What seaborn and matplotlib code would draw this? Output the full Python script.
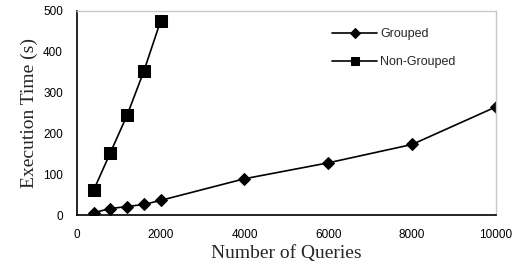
import pandas as pd
import matplotlib
matplotlib.use("Agg")
import matplotlib.pyplot as plt
import seaborn as sns

# values
grouped_x = [400, 800, 1200, 1600, 2000, 4000, 6000, 8000, 10000]
grouped_y = [6, 16, 21, 26, 36, 89, 128, 173, 265]
nongrouped_x = [400, 800, 1200, 1600, 2000]
nongrouped_y = [61, 153, 245, 353, 476]
x_ticks = [0, 2000, 4000, 6000, 8000, 10000]
y_ticks = [0, 100, 200, 300, 400, 500]

df = pd.concat([
    pd.DataFrame({'Queries': grouped_x, 'Time': grouped_y, 'Series': 'Grouped'}),
    pd.DataFrame({'Queries': nongrouped_x, 'Time': nongrouped_y, 'Series': 'Non-Grouped'}),
])

sns.set_style("white")
fig = plt.figure(figsize=(5.16, 2.74), dpi=100)
ax = fig.add_axes([0.149, 0.215, 0.812, 0.745])

sns.lineplot(data=df, x='Queries', y='Time', hue='Series', style='Series',
             palette={'Grouped': 'black', 'Non-Grouped': 'black'},
             markers={'Grouped': 'D', 'Non-Grouped': 's'},
             dashes=False, linewidth=1.2, markeredgecolor='black',
             ax=ax)
for line in ax.lines:
    if line.get_marker() == 's':
        line.set_markersize(9)
    else:
        line.set_markersize(6.5)

ax.set_xlim(0, 10000)
ax.set_ylim(0, 500)
ax.set_xticks(x_ticks)
ax.set_yticks(y_ticks)
ax.tick_params(direction='out', length=4, width=1, colors='black', labelsize=8.5, pad=6)
for lab in ax.get_xticklabels() + ax.get_yticklabels():
    lab.set_family('Liberation Sans')

ax.set_xlabel('Number of Queries', family='Liberation Serif', fontsize=14, labelpad=3)
ax.set_ylabel('Execution Time (s)', family='Liberation Serif', fontsize=14, labelpad=4)

for side in ['left', 'bottom']:
    ax.spines[side].set_color('black')
    ax.spines[side].set_linewidth(1.2)
for side in ['top', 'right']:
    ax.spines[side].set_color('#c8c8c8')
    ax.spines[side].set_linewidth(1)

handles, labels = ax.get_legend_handles_labels()
leg = ax.legend(handles, labels, loc='upper right', bbox_to_anchor=(0.93, 0.97),
                frameon=False, handlelength=3.6, labelspacing=1.25, handletextpad=0.2,
                prop={'family': 'Liberation Sans', 'size': 9})
for h in leg.get_lines():
    h.set_linewidth(1.2)
    h.set_markersize(6 if h.get_marker() == 's' else 5.5)

fig.savefig('out.png', dpi=100)
